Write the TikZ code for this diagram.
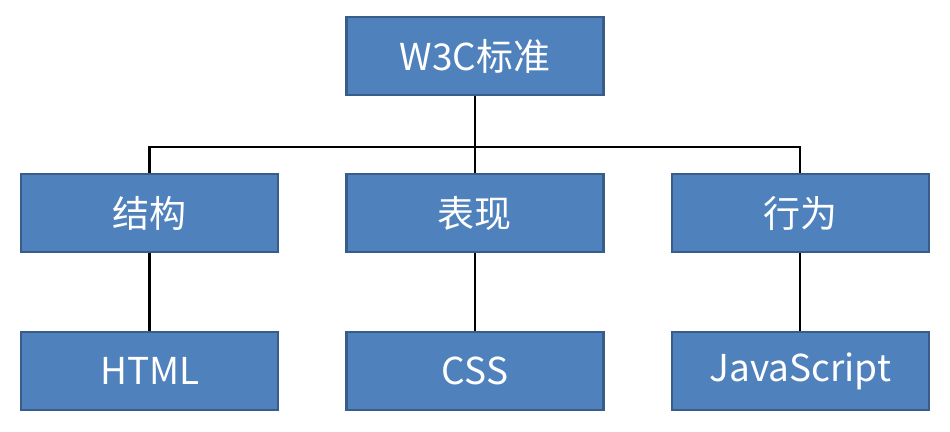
\documentclass[tikz,border=0pt]{standalone}
\usepackage{fontspec}
\setmainfont{Noto Sans CJK SC}
\usepackage{xcolor}
\usepackage{tikz}
\usetikzlibrary{positioning}
\definecolor{w3cfill}{RGB}{79,129,189}
\definecolor{w3cedge}{RGB}{56,93,138}
\tikzset{
  block/.style={draw=w3cedge, line width=1.1pt, fill=w3cfill, text=white,
    align=center, minimum width=128.5pt, minimum height=39pt, inner sep=2pt},
  link/.style={draw=black, line width=1.3pt}
}

\begin{document}
\begin{tikzpicture}[node distance=38.5pt and 33pt, font=\fontsize{18.5pt}{22pt}\selectfont]
        \useasboundingbox (-237.5pt,-188pt) rectangle (237.5pt,28pt);
        \node[block] (w3c) at (0,0) {W3C标准};
        \node[block, below=of w3c] (show) {表现};
        \node[block, left=of show] (struct) {结构};
        \node[block, right=of show] (behave) {行为};
        \node[block, below=39pt of struct] (html) {HTML};
        \node[block, below=39pt of show] (css) {CSS};
        \node[block, below=39pt of behave] (js) {JavaScript};
        \coordinate (bus) at ([yshift=-25.5pt]w3c.south);
        \draw[link] (w3c) -- (bus);
        \draw[link] (struct.north) |- (bus) -| (behave.north);
        \draw[link] (bus) -- (show);
        \draw[link] (struct) -- (html);
        \draw[link] (show) -- (css);
        \draw[link] (behave) -- (js);
    \end{tikzpicture}
\end{document}
